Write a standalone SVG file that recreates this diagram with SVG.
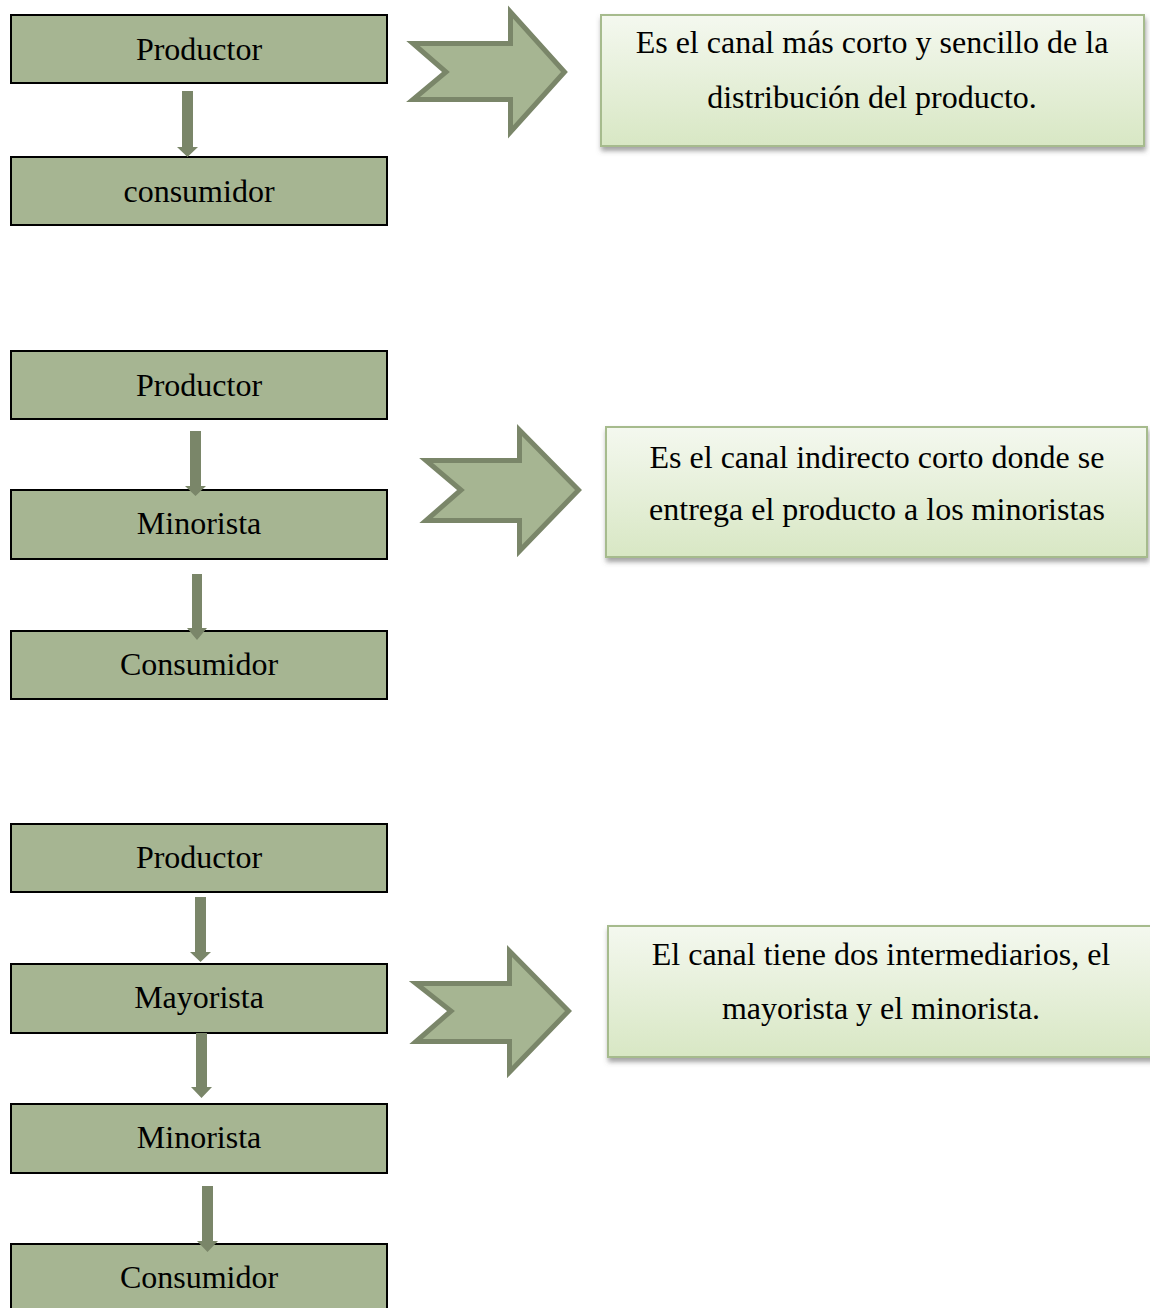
<svg xmlns="http://www.w3.org/2000/svg" width="1150" height="1308" viewBox="0 0 1150 1308">
<defs>
<linearGradient id="g" x1="0" y1="0" x2="0" y2="1">
<stop offset="0" stop-color="#f4f8ef"/>
<stop offset="1" stop-color="#d8e7c4"/>
</linearGradient>
<filter id="sh" x="-5%" y="-10%" width="112%" height="130%">
<feDropShadow dx="1" dy="4" stdDeviation="2.5" flood-color="#555" flood-opacity="0.55"/>
</filter>
</defs>
<style>
.box{fill:#a6b592;stroke:#000;stroke-width:2}
.t{font-family:"Liberation Serif","Times New Roman",serif;font-size:32px;fill:#000;text-anchor:middle}
.note{fill:url(#g);stroke:#a6bb8d;stroke-width:2;filter:url(#sh)}
.chev{fill:#a6b592;stroke:#7a8669;stroke-width:5;stroke-linejoin:miter;stroke-miterlimit:4}
.dn{fill:#7a8669}
</style>
<rect width="1150" height="1308" fill="#fff"/>

<g id="n1-productor"><rect class="box" x="11" y="15" width="376" height="68"/><text class="t" x="199" y="60">Productor</text></g>
<g id="n1-consumidor"><rect class="box" x="11" y="157" width="376" height="68"/><text class="t" x="199" y="202">consumidor</text></g>
<g id="c1-chevron"><path class="chev" d="M413,43.5 H510.5 V12 L564.5,72 L510.5,132 V99.5 H413 L446,72 Z"/></g>
<g id="c1-note"><rect class="note" x="601" y="15" width="543" height="131"/><text class="t" x="872" y="53">Es el canal más corto y sencillo de la</text><text class="t" x="872" y="108">distribución del producto.</text></g>

<g id="n2-productor"><rect class="box" x="11" y="351" width="376" height="68"/><text class="t" x="199" y="396">Productor</text></g>
<g id="n2-minorista"><rect class="box" x="11" y="490" width="376" height="69"/><text class="t" x="199" y="534">Minorista</text></g>
<g id="n2-consumidor"><rect class="box" x="11" y="631" width="376" height="68"/><text class="t" x="199" y="675">Consumidor</text></g>
<g id="c2-chevron"><path class="chev" d="M426,460.5 H519.5 V430 L578.5,490 L519.5,551 V520.5 H426 L461,490 Z"/></g>
<g id="c2-note"><rect class="note" x="606" y="427" width="541" height="130"/><text class="t" x="877" y="468">Es el canal indirecto corto donde se</text><text class="t" x="877" y="520">entrega el producto a los minoristas</text></g>

<g id="n3-productor"><rect class="box" x="11" y="824" width="376" height="68"/><text class="t" x="199" y="868">Productor</text></g>
<g id="n3-mayorista"><rect class="box" x="11" y="964" width="376" height="69"/><text class="t" x="199" y="1008">Mayorista</text></g>
<g id="n3-minorista"><rect class="box" x="11" y="1104" width="376" height="69"/><text class="t" x="199" y="1148">Minorista</text></g>
<g id="n3-consumidor"><rect class="box" x="11" y="1244" width="376" height="69"/><text class="t" x="199" y="1288">Consumidor</text></g>
<g id="c3-chevron"><path class="chev" d="M416,983.5 H509.5 V951 L568.5,1011 L509.5,1072 V1041.5 H416 L451,1011 Z"/></g>
<g id="c3-note"><rect class="note" x="608" y="926" width="546" height="131"/><text class="t" x="881" y="965">El canal tiene dos intermediarios, el</text><text class="t" x="881" y="1019">mayorista y el minorista.</text></g>

<g id="connectors">
<polygon class="dn" points="182,91 193,91 193,147 198,147 187.5,157 177,147 182,147"/>
<polygon class="dn" points="190,431 201,431 201,486 206,486 195.5,496 185,486 190,486"/>
<polygon class="dn" points="192,574 202,574 202,628 207,628 197,640 187,628 192,628"/>
<polygon class="dn" points="195,897 206,897 206,952 211,952 200.5,962 190,952 195,952"/>
<polygon class="dn" points="196,1033 207,1033 207,1087 212,1087 201.5,1098 191,1087 196,1087"/>
<polygon class="dn" points="202,1186 213,1186 213,1241 218,1241 207.5,1252 197,1241 202,1241"/>
</g>
</svg>
